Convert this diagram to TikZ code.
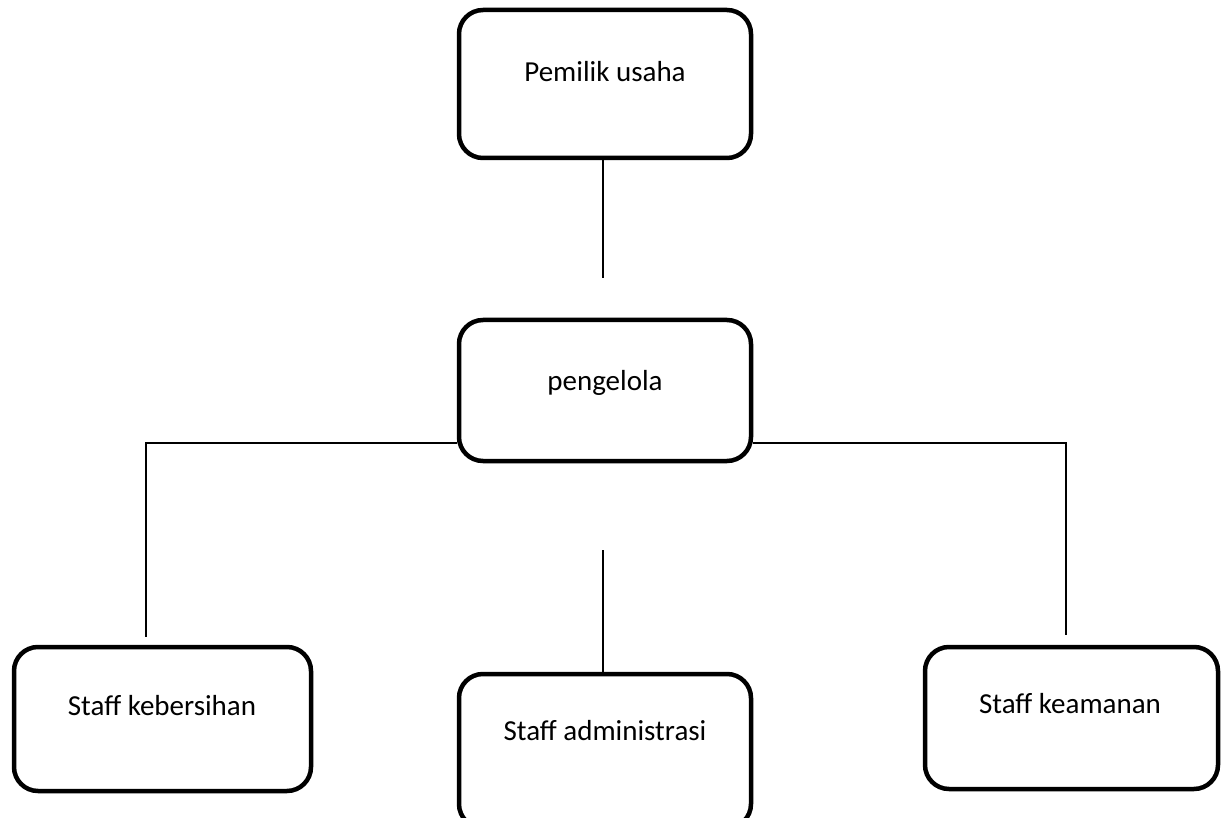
\documentclass[tikz,border=0pt]{standalone}
\usepackage{fontspec}
\setmainfont{Carlito}
\begin{document}
\begin{tikzpicture}[x=1pt,y=-1pt,
  box/.style={draw=black, line width=4.5pt, rounded corners=24pt, fill=white, inner sep=0pt},
  lbl/.style={font=\fontsize{29}{34}\selectfont, inner sep=0pt, anchor=base},
  conn/.style={draw=black, line width=1.6pt}]
\useasboundingbox (0,0) rectangle (1232,818);
% boxes
\node[box, minimum width=292pt, minimum height=148pt] (p) at (605,84) {};
\node[box, minimum width=292pt, minimum height=141pt] (g) at (605,390.5) {};
\node[box, minimum width=297pt, minimum height=144pt] (k) at (162.5,719) {};
\node[box, minimum width=292pt, minimum height=154pt] (a) at (605,751) {};
\node[box, minimum width=293pt, minimum height=142pt] (s) at (1071.5,718) {};
% labels
\node[lbl] (pt) at (605,82) {Pemilik usaha};
\node[lbl] (gt) at (605,390) {pengelola};
\node[lbl] (kt) at (162,715) {Staff kebersihan};
\node[lbl] (at) at (605,740) {Staff administrasi};
\node[lbl] (st) at (1070,713) {Staff keamanan};
% free ends
\coordinate (pbot) at (603,278);
\coordinate (lk) at (146,443);
\coordinate (ktop) at (146,637);
\coordinate (rk) at (1066,443);
\coordinate (stop) at (1066,635);
\coordinate (mtop) at (603,550);
% connectors
\draw[conn] (pbot |- p.south) -- (pbot);
\draw[conn] (g.west |- lk) -- (lk) -- (ktop);
\draw[conn] (g.east |- rk) -- (rk) -- (stop);
\draw[conn] (mtop) -- (mtop |- a.north);
\end{tikzpicture}
\end{document}
